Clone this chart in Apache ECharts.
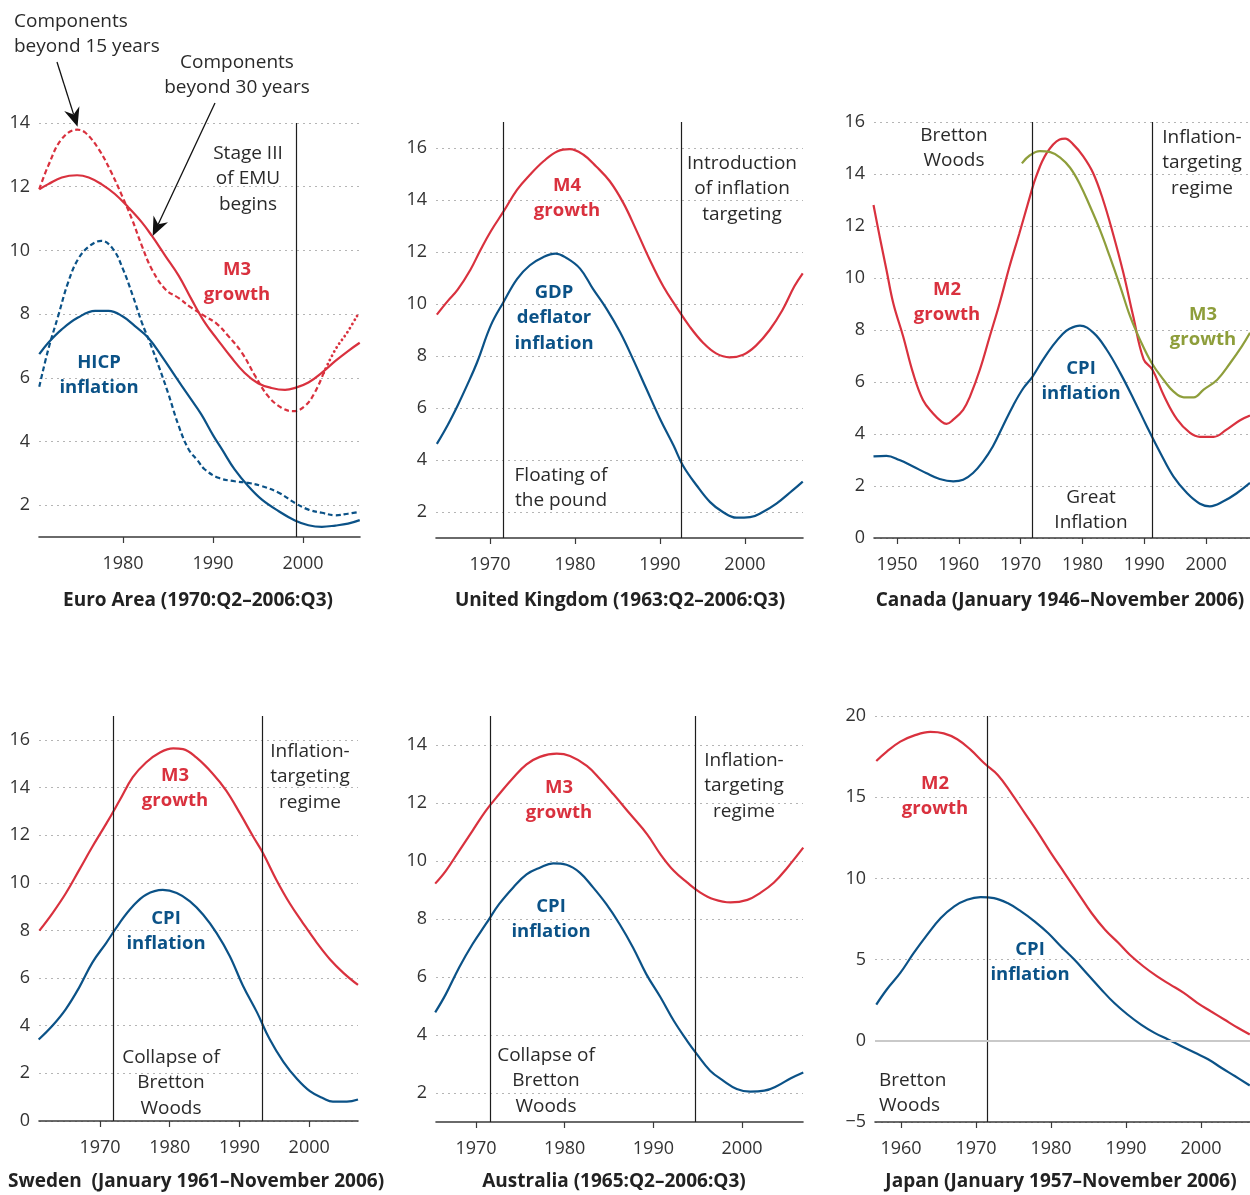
<!DOCTYPE html>
<html><head><meta charset="utf-8">
<script src="https://cdn.jsdelivr.net/npm/echarts@6/dist/echarts.min.js"></script>
<style>html,body{margin:0;padding:0;background:#fff}#c{width:1250px;height:1195px}</style>
</head><body><div id="c"></div><script>
// ---------- DATA ----------
// Euro Area
const euroM3Years = [1970.7,1971.7,1973.2,1974.9,1976.2,1977.6,1979.1,1980.6,1982.1,1983.2,1984.7,1986.2,1987.6,1989.1,1990.5,1992.0,1993.5,1995.0,1996.5,1998.0,1999.2,2000.6,2002.1,2003.6,2005.0,2006.3];
const euroM3 = [11.92,12.08,12.29,12.36,12.29,12.08,11.77,11.35,10.88,10.46,9.83,9.2,8.47,7.73,7.2,6.65,6.16,5.83,5.68,5.62,5.69,5.85,6.16,6.53,6.84,7.1];
const euroM3LongYears = [1970.7,1971.7,1973.2,1974.9,1975.8,1977.3,1978.7,1979.9,1981.0,1982.1,1983.2,1984.7,1986.2,1987.6,1989.0,1990.4,1991.7,1993.2,1994.7,1996.1,1997.6,1998.9,2000.2,2001.3,2002.3];
const euroM3Long = [11.92,12.66,13.5,13.79,13.7,13.18,12.45,11.71,10.98,10.14,9.41,8.78,8.5,8.2,7.95,7.7,7.31,6.79,6.05,5.43,5.06,4.95,5.11,5.53,6.16];
const euroM3TailYears = [2002.3,2003.6,2004.9,2006.0];
const euroM3Tail = [6.16,6.89,7.42,7.94];
const euroHicpYears = [1970.7,1971.7,1973.2,1975.0,1976.9,1978.4,1979.9,1981.3,1982.8,1984.3,1985.8,1987.3,1988.7,1990.0,1991.0,1992.4,1993.9,1995.4,1997.3,1999.1,2000.6,2002.1,2003.6,2005.0,2006.3];
const euroHicp = [6.74,7.1,7.52,7.89,8.1,8.1,7.94,7.63,7.26,6.68,6.05,5.43,4.85,4.2,3.75,3.12,2.6,2.18,1.81,1.52,1.37,1.32,1.36,1.42,1.53];
const euroHicpLongYears = [1970.7,1971.7,1972.8,1973.9,1975.0,1976.3,1977.6,1978.9,1980.0,1981.1,1982.1,1983.0,1984.1,1985.0,1986.2,1987.3,1988.3,1989.1,1990.6,1992.4,1993.9,1995.4,1997.3,1999.1,2000.6,2002.1,2003.6,2005.0,2006.3];
const euroHicpLong = [5.72,6.89,7.94,8.99,9.72,10.14,10.3,10.04,9.41,8.57,7.73,7.1,6.26,5.53,4.48,3.75,3.4,3.12,2.86,2.75,2.7,2.6,2.39,2.07,1.86,1.76,1.68,1.73,1.79];
// United Kingdom
const ukM4Years = [1963.75,1965,1966.2,1967.7,1968.9,1970.1,1971.6,1973.2,1974.7,1976.3,1977.9,1979.4,1981,1982.5,1984.1,1985.7,1987.2,1988.8,1990.4,1991.9,1993.5,1995.1,1996.6,1998.2,1999.8,2001.3,2002.9,2004.4,2005.8,2006.8];
const ukM4 = [9.59,10.1,10.55,11.32,12.09,12.8,13.56,14.4,14.97,15.49,15.87,15.96,15.74,15.29,14.72,13.88,12.85,11.7,10.67,9.9,9.13,8.5,8.1,7.95,8.05,8.4,9.0,9.76,10.67,11.18];
const ukGdpYears = [1963.75,1965,1966.2,1967.3,1968.5,1970.1,1971.6,1973.2,1974.7,1976.3,1977.7,1979,1980.6,1982.1,1983.7,1985.3,1986.8,1988.4,1990,1991.6,1992.7,1994.3,1995.9,1997.4,1999,2000.6,2002.1,2003.7,2005.6,2006.8];
const ukGdp = [4.62,5.33,6.1,6.87,7.77,9.18,10.08,10.97,11.49,11.81,11.94,11.77,11.36,10.59,9.82,8.92,7.9,6.74,5.59,4.56,3.79,3.03,2.38,2.0,1.78,1.8,2.0,2.32,2.83,3.17];
// Canada
const caM2Years = [1946.2,1947.2,1948.3,1949.4,1951.0,1952.6,1954.2,1955.8,1957.2,1958.0,1959.1,1960.7,1961.8,1963.4,1965.0,1966.6,1968.2,1969.8,1971.5,1972.5,1974.2,1976.3,1977.2,1978.5,1980.1,1981.7,1983.3,1984.9,1986.6,1988.2,1989.9,1991.3,1993.2,1995.3,1997.4,1999,2001.2,2003.3,2005.5,2007.1];
const caM2 = [12.81,11.59,10.31,9.03,7.75,6.34,5.31,4.8,4.48,4.39,4.55,4.93,5.44,6.47,7.75,9.03,10.44,11.72,13.13,13.9,14.8,15.33,15.36,15.14,14.69,14.05,13.03,11.74,10.21,8.54,6.87,6.48,5.46,4.56,4.04,3.89,3.89,4.17,4.53,4.71];
const caM3Years = [1970.2,1971.5,1973.1,1974.8,1976.4,1978,1979.6,1981.2,1982.8,1984.4,1986.1,1987.7,1989.3,1991.2,1993.1,1994.7,1996.4,1998,1999.6,2001.8,2003.9,2005.8,2007.1];
const caM3 = [14.41,14.72,14.88,14.84,14.63,14.24,13.6,12.77,11.87,10.84,9.68,8.53,7.63,6.73,6.09,5.64,5.41,5.41,5.71,6.09,6.73,7.38,7.89];
const caCpiYears = [1946.2,1948.3,1950.4,1952.6,1954.7,1956.9,1959.1,1960.7,1962.3,1963.9,1965.5,1967.1,1968.8,1970.4,1971.9,1973.6,1975.2,1976.8,1977.9,1979.6,1981.8,1983.9,1986.1,1988.3,1990.4,1992.6,1994.7,1996.9,1999,2000.6,2002.8,2005,2007.1];
const caCpi = [3.14,3.16,3.0,2.75,2.5,2.27,2.18,2.24,2.5,2.94,3.52,4.29,5.1,5.75,6.2,6.85,7.4,7.85,8.05,8.17,7.89,7.25,6.35,5.33,4.3,3.27,2.37,1.73,1.32,1.22,1.41,1.73,2.12];
// Sweden
const seM3Years = [1961.3,1963.2,1965.1,1967,1968.9,1970.9,1972.8,1974.7,1976.6,1978.6,1980.5,1981.9,1983.8,1986.2,1988.1,1990.1,1992,1993.4,1995.3,1997.2,1999.1,2001.1,2003,2004.9,2007];
const seM3 = [7.99,8.73,9.56,10.53,11.51,12.48,13.45,14.43,15.05,15.47,15.64,15.61,15.26,14.57,13.87,12.9,11.92,11.23,10.12,9.14,8.31,7.48,6.78,6.22,5.71];
const seCpiYears = [1961.2,1963.2,1965.1,1967,1968.9,1970.9,1972.8,1974.7,1976.6,1979,1981,1982.9,1984.8,1986.7,1988.6,1990.5,1992.5,1994.3,1996.3,1998.2,2000.1,2002,2003.4,2005.4,2007];
const seCpi = [3.42,4.01,4.7,5.6,6.65,7.48,8.31,9.01,9.5,9.7,9.57,9.22,8.66,7.9,6.93,5.68,4.57,3.45,2.48,1.78,1.25,0.95,0.81,0.81,0.9];
// Australia
const auM3Years = [1965.4,1966.6,1968.1,1969.6,1971.1,1972.6,1974.2,1975.7,1977.2,1979.1,1980.6,1982.5,1984,1985.5,1987.4,1989.3,1990.8,1992.3,1993.8,1995.3,1996.8,1998.7,2000.6,2002.1,2003.6,2005.1,2006.9];
const auM3 = [9.22,9.66,10.35,11.04,11.73,12.3,12.87,13.33,13.59,13.7,13.62,13.28,12.82,12.3,11.61,10.92,10.23,9.66,9.26,8.91,8.68,8.57,8.66,8.91,9.26,9.77,10.46];
const auCpiYears = [1965.4,1966.6,1968.1,1969.6,1971.1,1972.6,1974.2,1975.7,1977.2,1978.7,1980.2,1981.7,1983.2,1984.7,1986.2,1987.7,1989.2,1990.8,1992.3,1993.8,1994.9,1996.4,1997.9,1999.4,2000.9,2002.5,2004,2005.5,2006.9];
const auCpi = [4.78,5.41,6.33,7.13,7.82,8.51,9.09,9.54,9.77,9.92,9.87,9.6,9.09,8.51,7.82,7.02,6.1,5.3,4.49,3.8,3.34,2.77,2.42,2.14,2.05,2.08,2.25,2.51,2.71];
// Japan
const jpM2Years = [1956.7,1958.1,1959.9,1961.7,1963.9,1965.7,1967.5,1969.3,1971.1,1972.9,1974.7,1976.5,1978.3,1980,1981.8,1983.6,1985.4,1987.2,1989,1990.5,1992.3,1994.1,1995.9,1997.7,1999.5,2001.3,2003.1,2004.9,2006.5];
const jpM2 = [17.23,17.81,18.42,18.79,19.02,18.93,18.57,17.91,17.09,16.37,15.25,14.02,12.79,11.56,10.33,9.1,7.87,6.84,6.02,5.3,4.59,3.98,3.46,2.95,2.34,1.82,1.31,0.8,0.39];
const jpCpiYears = [1956.7,1958.1,1959.9,1961.7,1963.5,1965.3,1967.1,1968.8,1970.6,1972.4,1974.2,1976,1977.8,1979.6,1981.3,1983.1,1984.9,1986.7,1988.4,1990.2,1992,1993.8,1995.6,1997.4,1999.2,2001,2002.7,2004.5,2006.5];
const jpCpi = [2.23,3.16,4.18,5.41,6.54,7.56,8.28,8.69,8.85,8.79,8.48,7.97,7.36,6.64,5.82,5.0,4.08,3.16,2.34,1.62,1.0,0.49,0.08,-0.33,-0.74,-1.15,-1.66,-2.17,-2.75];
// Tick labels
const euroXTicks = [1980,1990,2000];
const euroYTicks = [2,4,6,8,10,12,14];
const ukXTicks = [1970,1980,1990,2000];
const ukYTicks = [2,4,6,8,10,12,14,16];
const caXTicks = [1950,1960,1970,1980,1990,2000];
const caYTicks = [0,2,4,6,8,10,12,14,16];
const seXTicks = [1970,1980,1990,2000];
const seYTicks = [0,2,4,6,8,10,12,14,16];
const auXTicks = [1970,1980,1990,2000];
const auYTicks = [2,4,6,8,10,12,14];
const jpXTicks = [1960,1970,1980,1990,2000];
const jpYTicks = [-5,0,5,10,15,20];
// Event dates (vertical lines)
const euroEvents = [1999.3];
const ukEvents = [1971.6,1992.5];
const caEvents = [1971.9,1991.3];
const seEvents = [1971.9,1993.2];
const auEvents = [1971.6,1994.7];
const jpEvents = [1971.5];
const titles = ['Euro Area (1970:Q2\u20132006:Q3)','United Kingdom (1963:Q2\u20132006:Q3)','Canada (January 1946\u2013November 2006)','Sweden  (January 1961\u2013November 2006)','Australia (1965:Q2\u20132006:Q3)','Japan (January 1957\u2013November 2006)'];

// ---------- STYLE ----------
const FONT = '"Open Sans", "Noto Sans", sans-serif';
const RED = '#d9313e', BLUE = '#0b5287', OLIVE = '#8e9e3b', INK = '#2a2a2a';
const zip = (xs, ys) => xs.map((x, i) => [x, ys[i]]);

const panels = [
  {l:39, t:123, w:321, h:414, xmin:1970.67, xmax:2006.33, ymin:1, ymax:14, xt:euroXTicks, yt:euroYTicks, ev:euroEvents},
  {l:436, t:122, w:367, h:416, xmin:1963.65, xmax:2006.83, ymin:1, ymax:17, xt:ukXTicks, yt:ukYTicks, ev:ukEvents},
  {l:874, t:122, w:376, h:416, xmin:1946.28, xmax:2007.1, ymin:0, ymax:16, xt:caXTicks, yt:caYTicks, ev:caEvents},
  {l:39, t:716, w:319, h:405, xmin:1961.25, xmax:2007.0, ymin:0, ymax:17, xt:seXTicks, yt:seYTicks, ev:seEvents},
  {l:436, t:716, w:367, h:406, xmin:1965.49, xmax:2006.87, ymin:1, ymax:15, xt:auXTicks, yt:auYTicks, ev:auEvents},
  {l:875, t:716, w:375, h:406, xmin:1956.53, xmax:2006.53, ymin:-5, ymax:20, xt:jpXTicks, yt:jpYTicks, ev:jpEvents}
];

const grid = [], xAxis = [], yAxis = [], series = [];
panels.forEach((p, i) => {
  grid.push({left:p.l, top:p.t, width:p.w, height:p.h, containLabel:false, outerBoundsMode:'none'});
  xAxis.push({gridIndex:i, type:'value', min:p.xmin, max:p.xmax,
    axisLine:{show:true, onZero:false, lineStyle:{color:'#3a3a3a', width:1.6}},
    axisTick:{show:true, customValues:p.xt, length:6, lineStyle:{color:'#3a3a3a', width:1.2}},
    axisLabel:{customValues:p.xt, fontSize:18, color:'#333', margin:18, fontFamily:FONT,
      formatter: v => String(Math.round(v))},
    splitLine:{show:false}});
  yAxis.push({gridIndex:i, type:'value', min:p.ymin, max:p.ymax,
    axisLine:{show:false}, axisTick:{show:false, customValues:p.yt},
    axisLabel:{customValues:p.yt, fontSize:18, color:'#333', margin:9, fontFamily:FONT,
      formatter: v => String(Math.round(v)).replace('-', '\u2212')},
    splitLine:{show:true, lineStyle:{type:[2,4], color:'#b5b5b5', width:1.2}}});
  // event lines
  series.push({type:'line', xAxisIndex:i, yAxisIndex:i, data:[], silent:true, z:1,
    markLine:{silent:true, symbol:['none','none'], animation:false, label:{show:false},
      lineStyle:{color:'#1e1e1e', width:1.2, type:'solid'}, emphasis:{disabled:true},
      data: p.ev.map(e => ({xAxis:e}))}});
});
// Japan zero line
series.push({type:'line', xAxisIndex:5, yAxisIndex:5, data:[], silent:true, z:1,
  markLine:{silent:true, symbol:['none','none'], animation:false, label:{show:false},
    lineStyle:{color:'#c9c9c9', width:2, type:'solid'}, emphasis:{disabled:true}, data:[{yAxis:0}]}});

function line(i, xs, ys, color, type, dotted) {
  series.push({type:'line', xAxisIndex:i, yAxisIndex:i, data:zip(xs, ys), smooth:0.4,
    showSymbol:false, silent:true, z:3,
    lineStyle:{color:color, width:dotted ? 2.8 : 2.2, type:type || 'solid', cap: dotted ? 'round' : 'butt'}});
}
line(0, euroM3LongYears, euroM3Long, RED, [5,3]);
line(0, euroM3TailYears, euroM3Tail, RED, [0.1,4.6], true);
line(0, euroHicpLongYears, euroHicpLong, BLUE, [5,3]);
line(0, euroM3Years, euroM3, RED);
line(0, euroHicpYears, euroHicp, BLUE);
line(1, ukM4Years, ukM4, RED);
line(1, ukGdpYears, ukGdp, BLUE);
line(2, caM2Years, caM2, RED);
line(2, caM3Years, caM3, OLIVE);
line(2, caCpiYears, caCpi, BLUE);
line(3, seM3Years, seM3, RED);
line(3, seCpiYears, seCpi, BLUE);
line(4, auM3Years, auM3, RED);
line(4, auCpiYears, auCpi, BLUE);
line(5, jpM2Years, jpM2, RED);
line(5, jpCpiYears, jpCpi, BLUE);

// ---------- TEXT ----------
const graphic = [];
function txt(x, y, s, opt) {
  opt = opt || {};
  graphic.push({type:'text', x:x, y:y, silent:true, z:10, style:{text:s, fill:opt.fill || INK,
    font:(opt.bold ? 'bold ' : '') + (opt.size || 19) + 'px ' + FONT,
    align:opt.align || 'center', verticalAlign:'middle', lineHeight:opt.lh || 25.5}});
}
const LBL = c => ({bold:true, size:18.5, fill:c});
// panel titles
[[198,601],[620,601],[1060,601],[196,1182],[614,1182],[1061,1182]].forEach((c, k) =>
  txt(c[0], c[1], titles[k], {bold:true, size:19, fill:'#222'}));
// Euro
txt(14, 34, 'Components\nbeyond 15 years', {align:'left'});
txt(237, 75, 'Components\nbeyond 30 years');
txt(248, 179, 'Stage III\nof EMU\nbegins');
txt(237, 282, 'M3\ngrowth', LBL(RED));
txt(99, 375, 'HICP\ninflation', LBL(BLUE));
// UK
txt(567, 198, 'M4\ngrowth', LBL(RED));
txt(554, 318, 'GDP\ndeflator\ninflation', LBL(BLUE));
txt(742, 189, 'Introduction\nof inflation\ntargeting');
txt(561, 488, 'Floating of\nthe pound');
// Canada
txt(954, 148, 'Bretton\nWoods');
txt(1202, 163, 'Inflation-\ntargeting\nregime');
txt(947, 302, 'M2\ngrowth', LBL(RED));
txt(1203, 327, 'M3\ngrowth', LBL(OLIVE));
txt(1081, 381, 'CPI\ninflation', LBL(BLUE));
txt(1091, 510, 'Great\nInflation');
// Sweden
txt(175, 788, 'M3\ngrowth', LBL(RED));
txt(166, 931, 'CPI\ninflation', LBL(BLUE));
txt(310, 777, 'Inflation-\ntargeting\nregime');
txt(171, 1083, 'Collapse of\nBretton\nWoods');
// Australia
txt(559, 800, 'M3\ngrowth', LBL(RED));
txt(551, 919, 'CPI\ninflation', LBL(BLUE));
txt(744, 786, 'Inflation-\ntargeting\nregime');
txt(546, 1081, 'Collapse of\nBretton\nWoods');
// Japan
txt(935, 796, 'M2\ngrowth', LBL(RED));
txt(1030, 962, 'CPI\ninflation', LBL(BLUE));
txt(879, 1093, 'Bretton\nWoods', {align:'left'});

const chart = echarts.init(document.getElementById('c'), null, {renderer:'canvas'});
chart.setOption({animation:false, backgroundColor:'#fff', grid, xAxis, yAxis, series, graphic});

// arrows pointing at the Euro-area M3 curves
function arrow(x0, y0, tipData) {
  const t = chart.convertToPixel({xAxisIndex:0, yAxisIndex:0}, tipData);
  const dx = t[0] - x0, dy = t[1] - y0, L = Math.hypot(dx, dy);
  const ux = dx / L, uy = dy / L, px = -uy, py = ux;
  const hl = 19, hw = 8, notch = 6;
  const bx = t[0] - ux * hl, by = t[1] - uy * hl;
  const nx = t[0] - ux * (hl - notch), ny = t[1] - uy * (hl - notch);
  graphic.push({type:'line', silent:true, z:10, shape:{x1:x0, y1:y0, x2:nx, y2:ny}, style:{stroke:'#111', lineWidth:1.3}});
  graphic.push({type:'polygon', silent:true, z:10, shape:{points:[[t[0], t[1]], [bx + px * hw, by + py * hw], [nx, ny], [bx - px * hw, by - py * hw]]}, style:{fill:'#111'}});
}
arrow(57, 62, [1974.95, 13.88]);
arrow(215, 103, [1983.3, 10.45]);
chart.setOption({graphic});
</script></body></html>
